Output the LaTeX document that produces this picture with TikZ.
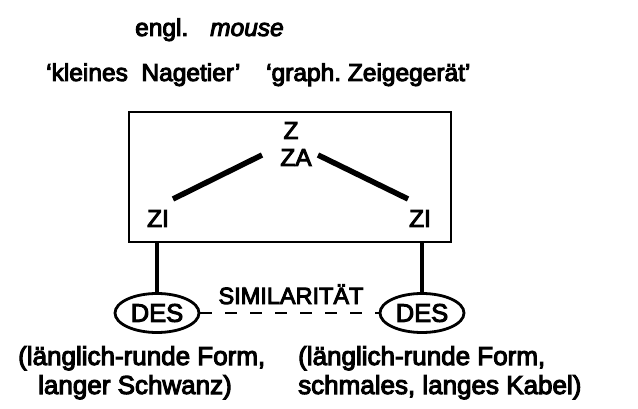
\documentclass[tikz,border=0pt]{standalone}
\usepackage{fontspec}
\setmainfont{Liberation Sans}[UprightFeatures={FakeBold=4}, ItalicFeatures={FakeBold=4}]
\usetikzlibrary{shapes.geometric}
\frenchspacing
\begin{document}
\begin{tikzpicture}[x=1pt,y=-1pt,
  txt/.style={inner sep=0pt, font=\fontsize{24.5}{28}\selectfont},
  big/.style={inner sep=0pt, font=\fontsize{26}{30}\selectfont},
  lbl/.style={txt, anchor=base},
  desnode/.style={draw, ellipse, line width=2.8pt, minimum width=84pt, minimum height=39pt, inner sep=0pt, font=\fontsize{25.5}{28}\selectfont},
  thickline/.style={line width=5.5pt},
  stem/.style={line width=4.8pt}
]
\useasboundingbox (0,0) rectangle (638,409);
% title lines
\node[txt, anchor=base west] (engl) at (135,36) {engl.};
\node[txt, anchor=base west] (mouse) at (210,36) {\itshape mouse};
\node[txt, anchor=base west] (nage) at (46,81) {`kleines\ \ Nagetier'};
\node[txt, anchor=base west] (zeig) at (266,81) {`graph. Zeigeger\"at'};
% box
\node[draw, line width=2.8pt, minimum width=322pt, minimum height=130pt, inner sep=0pt] (box) at (290,177) {};
\node[lbl] (z) at (291,139) {Z};
\node[lbl] (za) at (296,166) {ZA};
\node[lbl] (zil) at (158,227) {ZI};
\node[lbl] (zir) at (420,227) {ZI};
\draw[thickline] ([shift={(-34,-11)}]za.base) -- ([shift={(15,-28)}]zil.base);
\draw[thickline] ([shift={(22,-11)}]za.base) -- ([shift={(-12,-28)}]zir.base);
% DES
\node[desnode] (desl) at (157,313) {DES};
\node[desnode] (desr) at (422,313) {DES};
\draw[stem] (desl.north) -- (desl.north |- box.south);
\draw[stem] (desr.north) -- (desr.north |- box.south);
\draw[line width=2.6pt, dash pattern=on 12pt off 13pt] (desl.east) -- (desr.west);
\node[txt, anchor=base, font=\fontsize{23.5}{26}\selectfont] (sim) at (291,304) {SIMILARIT\"AT};
% bottom texts
\node[big, anchor=base west] (l1) at (18,365) {(l\"anglich-runde Form,};
\node[big, anchor=base west] (l2) at (38,394) {langer Schwanz)};
\node[big, anchor=base west] (r1) at (298,365) {(l\"anglich-runde Form,};
\node[big, anchor=base west] (r2) at (298,394) {schmales, langes Kabel)};
\end{tikzpicture}
\end{document}
